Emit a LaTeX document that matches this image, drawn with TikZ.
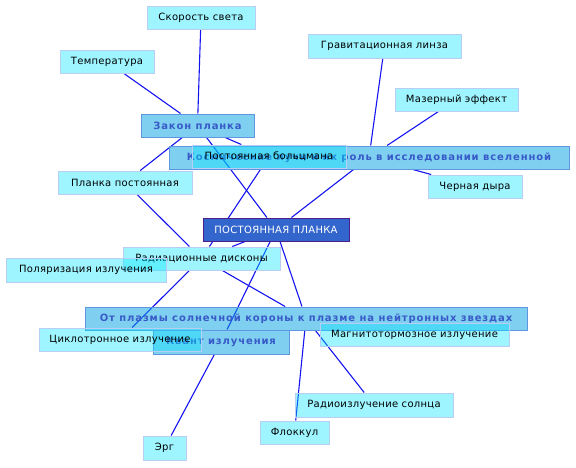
\documentclass[tikz,border=0pt]{standalone}
\usepackage{fontspec}
\setmainfont{DejaVu Sans}[LetterSpace=3]
\newfontfamily\topicfont{DejaVu Sans}[LetterSpace=9]

\definecolor{leaffill}{RGB}{0,230,255}
\definecolor{leafline}{RGB}{185,205,245}
\definecolor{topicfill}{RGB}{0,160,225}
\definecolor{topicline}{RGB}{95,150,225}
\definecolor{topictext}{RGB}{55,90,200}
\definecolor{rootfill}{RGB}{51,102,204}
\definecolor{rootline}{RGB}{75,30,140}
\definecolor{linkblue}{RGB}{20,20,240}

\pgfdeclarelayer{edges}
\pgfsetlayers{edges,main}

\tikzset{
  box/.style={rectangle, inner sep=0pt, minimum height=23, line width=1, text opacity=1, draw opacity=1,
    font=\fontsize{10}{12}\selectfont},
  leaf/.style={box, fill=leaffill, fill opacity=0.38, draw=leafline, text=black},
  topic/.style={box, fill=topicfill, fill opacity=0.5, draw=topicline, text=topictext,
    font=\fontsize{10}{12}\topicfont\bfseries},
  root/.style={box, fill=rootfill, draw=rootline, text=white},
  link/.style={draw=linkblue, line width=1.1}
}

\begin{document}
\begin{tikzpicture}[x=1pt, y=-1pt]
    \useasboundingbox (0,0) rectangle (576,467);

    \node[leaf, minimum width=108] (sveta) at (201,17.5) {Скорость света};
    \node[leaf, minimum width=94] (temp) at (107,61.5) {Температура};
    \node[leaf, minimum width=153, minimum height=24] (grav) at (384.5,46) {Гравитационная линза};
    \node[leaf, minimum width=123] (maser) at (456.5,99.5) {Мазерный эффект};
    \node[topic, minimum width=113] (zakon) at (197.5,125.5) {Закон планка};
    \node[topic, minimum width=400] (kosm) at (369,157.5) {Космические лучи и их роль в исследовании вселенной};
    \node[leaf, minimum width=154] (boltz) at (269,156.5) {Постоянная больцмана};
    \node[leaf, minimum width=94] (dyra) at (475,186.5) {Черная дыра};
    \node[leaf, minimum width=134] (pp) at (125,182.5) {Планка постоянная};
    \node[root, minimum width=146] (root) at (276,229.5) {ПОСТОЯННАЯ ПЛАНКА};
    \node[leaf, minimum width=157] (rad) at (201.5,258.5) {Радиационные дисконы};
    \node[leaf, minimum width=160, minimum height=24] (pol) at (86,270) {Поляризация излучения};
    \node[topic, minimum width=442] (plasma) at (306,318.5) {От плазмы солнечной короны к плазме на нейтронных звездах};
    \node[leaf, minimum width=189] (magn) at (414.5,334.5) {Магнитотормозное излучение};
    \node[topic, minimum width=136, minimum height=24] (kvant) at (221,342) {Квант излучения};
    \node[leaf, minimum width=162] (cycl) at (120,339.5) {Циклотронное излучение};
    \node[leaf, minimum width=158, minimum height=24] (radio) at (374,405) {Радиоизлучение солнца};
    \node[leaf, minimum width=69] (flok) at (294.5,432.5) {Флоккул};
    \node[leaf, minimum width=43, minimum height=24] (erg) at (164.5,448) {Эрг};

    \begin{pgfonlayer}{edges}
    \draw[link] (sveta) -- (zakon);
    \draw[link] (temp) -- (zakon);
    \draw[link] (zakon) -- (pp);
    \draw[link] (zakon) -- (root);
    \draw[link] (zakon) -- (boltz);
    \draw[link] (grav) -- (kosm);
    \draw[link] (maser) -- (kosm);
    \draw[link] (kosm) -- (dyra);
    \draw[link] (kosm) -- (root);
    \draw[link] (boltz) -- (rad);
    \draw[link] (pp) -- (rad);
    \draw[link] (root) -- (rad);
    \draw[link] (root) -- (kvant);
    \draw[link] (root) -- (plasma);
    \draw[link] (rad) -- (cycl);
    \draw[link] (rad) -- (plasma);
    \draw[link] (plasma) -- (flok);
    \draw[link] (plasma) -- (radio);
    \draw[link] (kvant) -- (erg);
    \end{pgfonlayer}
\end{tikzpicture}
\end{document}
